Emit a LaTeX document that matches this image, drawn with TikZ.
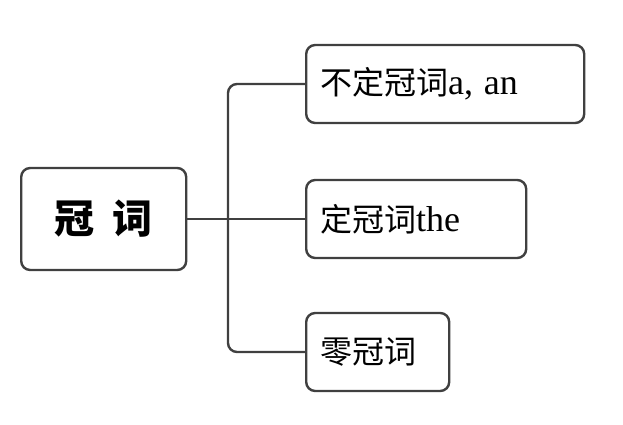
\documentclass[tikz,border=0pt]{standalone}
\usepackage{fontspec}
\setmainfont{Liberation Serif}
\newfontfamily\cjk{Noto Sans CJK SC}
\usetikzlibrary{positioning}
\definecolor{boxline}{RGB}{64,64,64}
\tikzset{
  item/.style={draw=boxline,line width=2.4pt,rounded corners=9pt,minimum height=78pt,
    inner xsep=14pt,anchor=west,align=left,font=\fontsize{32}{36}\selectfont},
  link/.style={draw=boxline,line width=2.4pt,rounded corners=9pt}
}
\begin{document}
\begin{tikzpicture}[x=1pt,y=-1pt]
\useasboundingbox (0,0) rectangle (623,424);
%boxes
\node[item,minimum width=165pt,minimum height=102pt,inner xsep=0pt,align=center,font=\fontsize{40}{44}\selectfont] (root) at (20,219) {{\cjk\bfseries 冠\hspace{18pt}词}};
\node[item,text width=250pt] (indef) at (305,84) {{\cjk 不定冠词}{\fontsize{36}{36}\selectfont a, an}};
\node[item,text width=192pt] (def) at (305,219) {{\cjk 定冠词}{\fontsize{36}{36}\selectfont the}};
\node[item,text width=115pt] (zero) at (305,352) {{\cjk 零冠词}};
%links
\coordinate (fork) at (228,219);
\draw[link] (root.east) -- (def.west);
\draw[link] (indef.west) -| (fork) |- (zero.west);
\end{tikzpicture}
\end{document}
